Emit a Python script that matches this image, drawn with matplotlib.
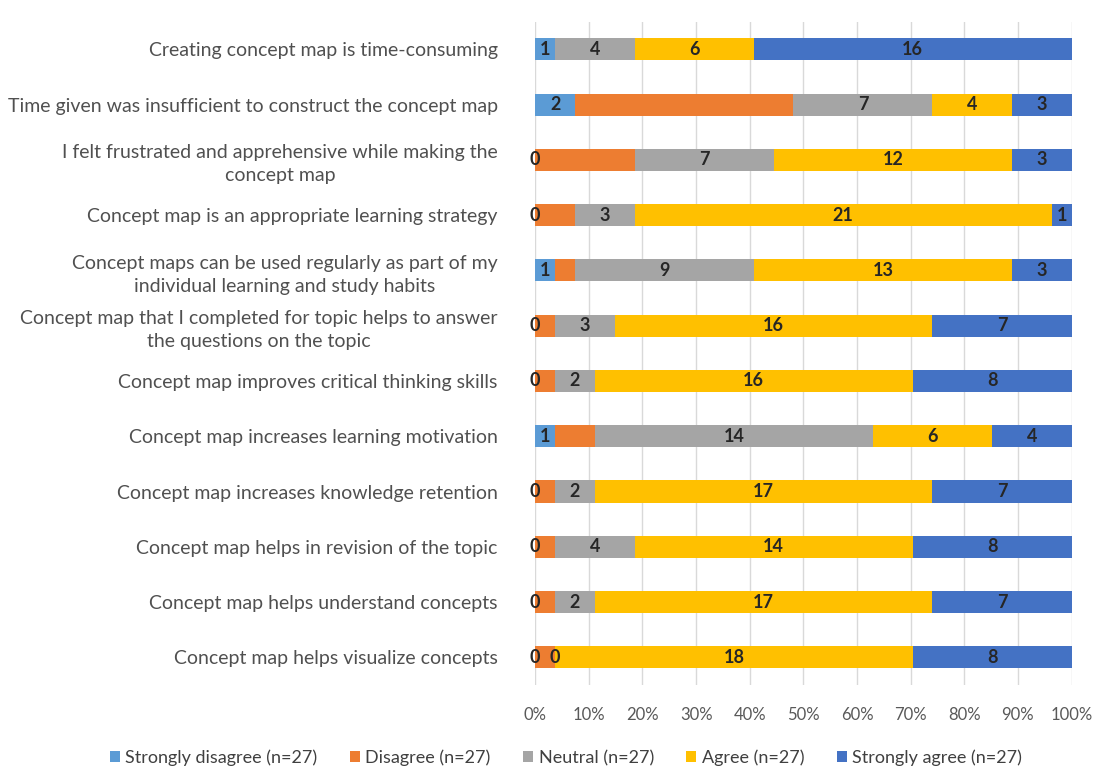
import numpy as np
import matplotlib.pyplot as plt

plt.rcParams['font.family'] = ['Lato', 'DejaVu Sans']

statements = [
    "Creating concept map is time-consuming",
    "Time given was insufficient to construct the concept map",
    "I felt frustrated and apprehensive while making the\nconcept map",
    "Concept map is an appropriate learning strategy",
    "Concept maps can be used regularly as part of my\nindividual learning and study habits",
    "Concept map that I completed for topic helps to answer\nthe questions on the topic",
    "Concept map improves critical thinking skills",
    "Concept map increases learning motivation",
    "Concept map increases knowledge retention",
    "Concept map helps in revision of the topic",
    "Concept map helps understand concepts",
    "Concept map helps visualize concepts",
]

strongly_disagree = [1, 2, 0, 0, 1, 0, 0, 1, 0, 0, 0, 0]
disagree = [0, 11, 5, 2, 1, 1, 1, 2, 1, 1, 1, 1]
neutral = [4, 7, 7, 3, 9, 3, 2, 14, 2, 4, 2, 0]
agree = [6, 4, 12, 21, 13, 16, 16, 6, 17, 14, 17, 18]
strongly_agree = [16, 3, 3, 1, 3, 7, 8, 4, 7, 8, 7, 8]

# (legend name, values, colour, show data labels)
series = [
    ("Strongly disagree (n=27)", strongly_disagree, "#5B9BD5", True),
    ("Disagree (n=27)", disagree, "#ED7D31", False),
    ("Neutral (n=27)", neutral, "#A5A5A5", True),
    ("Agree (n=27)", agree, "#FFC000", True),
    ("Strongly agree (n=27)", strongly_agree, "#4472C4", True),
]

totals = np.sum([np.array(s[1]) for s in series], axis=0)
y = np.arange(len(statements))

fig = plt.figure(figsize=(10.99, 7.74), dpi=100)
ax = fig.add_axes([0.487, 0.115, 0.488, 0.857])

left = np.zeros(len(statements))
for name, vals, color, show in series:
    vals = np.array(vals, dtype=float)
    w = vals / totals
    ax.barh(y, w, left=left, height=0.4, color=color, label=name, zorder=2)
    if show:
        for yi, li, wi, v in zip(y, left, w, vals):
            ax.text(li + wi / 2, yi, f"{int(v)}", ha='center', va='center',
                    fontsize=13, fontweight='bold', color='#262626', zorder=3)
    left += w

ax.set_ylim(len(statements) - 0.5, -0.5)
ax.set_xlim(0, 1)
ax.set_yticks(y)
ax.set_yticklabels(statements, fontsize=14, color='#505050',
                   multialignment='center', linespacing=1.4)
ticks = np.arange(0, 1.01, 0.1)
ax.set_xticks(ticks)
ax.set_xticklabels([f"{int(round(t * 100))}%" for t in ticks], fontsize=12, color='#595959')
ax.tick_params(axis='y', length=0, pad=27)
ax.tick_params(axis='x', length=0, pad=16)
ax.grid(axis='x', color='#D9D9D9', linewidth=1, zorder=0)
for s in ax.spines.values():
    s.set_visible(False)

fig.legend(loc='center', bbox_to_anchor=(0.515, 0.021), ncol=5, frameon=False,
           fontsize=13, handlelength=0.55, handleheight=0.55, handletextpad=0.3,
           columnspacing=1.8, labelcolor='#404040')

fig.savefig("out.png", dpi=100)
